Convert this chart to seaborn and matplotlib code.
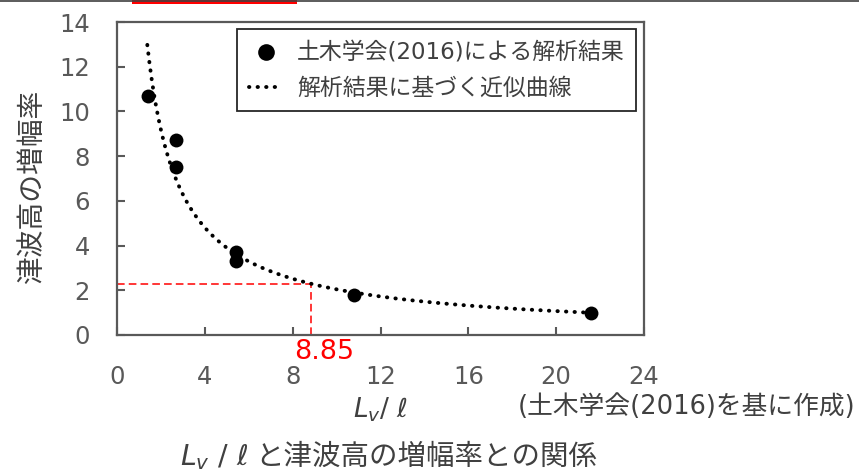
import numpy as np
import pandas as pd
import matplotlib
matplotlib.use("Agg")
import matplotlib.pyplot as plt
import seaborn as sns
from matplotlib.offsetbox import TextArea, HPacker, AnchoredOffsetbox
from matplotlib.patches import Rectangle
from matplotlib.lines import Line2D

# ---- data ----
lv_ratio = [1.4, 2.7, 2.7, 5.4, 5.4, 10.8, 21.6]
amplification = [10.7, 8.7, 7.5, 3.7, 3.3, 1.8, 1.0]
curve_range = [1.38, 21.5]
marked_x = 8.85
x_ticks = [0, 4, 8, 12, 16, 20, 24]
y_ticks = [0, 2, 4, 6, 8, 10, 12, 14]
scatter_label = "土木学会(2016)による解析結果"
curve_label = "解析結果に基づく近似曲線"
y_label = "津波高の増幅率"
source_text = "(土木学会(2016)を基に作成)"
caption_math = r"$L_v$ / $\ell$"
caption_text = "と津波高の増幅率との関係"
x_label = r"$L_v$/ $\ell$"

sns.set_theme(style="white")
plt.rcParams["font.family"] = ["DejaVu Sans", "Noto Sans CJK JP"]
plt.rcParams["mathtext.fontset"] = "dejavusans"

W, H = 859, 475
fig = plt.figure(figsize=(W / 100, H / 100), dpi=100)
ax = fig.add_axes([117 / W, 1 - 335 / H, 527 / W, 313 / H])

# power-law fit of the analysis results (approximation curve)
b, ln_a = np.polyfit(np.log(lv_ratio), np.log(amplification), 1)
xs = np.linspace(curve_range[0], curve_range[1], 400)
curve = pd.DataFrame({"x": xs, "y": np.exp(ln_a) * xs ** b})
y_mark = float(np.exp(ln_a) * marked_x ** b)

sns.lineplot(data=curve, x="x", y="y", ax=ax, color="black", lw=2.8,
             linestyle=(0, (0.1, 2.1)), dash_capstyle="round",
             label=curve_label, zorder=2)
sns.scatterplot(x=lv_ratio, y=amplification, ax=ax, s=100, color="black",
                edgecolor="black", linewidth=0, label=scatter_label, zorder=3)

# red guide lines
ax.plot([0, marked_x], [y_mark, y_mark], color="#FF0000", lw=1.1,
        linestyle=(0, (5, 2.7)), zorder=1)
ax.plot([marked_x, marked_x], [0, y_mark], color="#FF0000", lw=1.1,
        linestyle=(0, (5, 2.7)), zorder=1)
ax.annotate(f"{marked_x}", xy=(marked_x, 0), xycoords=("data", "axes fraction"),
            xytext=(9, -12), textcoords="offset points", ha="center", va="center",
            color="#FF0000", fontsize=19.5)

ax.set_xlim(0, 24)
ax.set_ylim(0, 14)
ax.set_xticks(x_ticks)
ax.set_yticks(y_ticks)
ax.set_xlabel("")
ax.set_ylabel("")
spine_c = "#595959"
for s in ax.spines.values():
    s.set_color(spine_c)
    s.set_linewidth(1.6)
ax.tick_params(axis="both", direction="in", length=6, width=1.5, color=spine_c,
               labelcolor=spine_c, labelsize=17.5, bottom=True, left=True,
               top=False, right=False)
ax.tick_params(axis="x", pad=21.5)
ax.tick_params(axis="y", pad=19.5)

# legend
handles, labels = ax.get_legend_handles_labels()
order = [labels.index(scatter_label), labels.index(curve_label)]
leg = ax.legend([handles[i] for i in order], [labels[i] for i in order],
                loc="upper right", bbox_to_anchor=(0.985, 0.978),
                fontsize=16.5, frameon=True, fancybox=False, framealpha=1,
                edgecolor="#262626", handlelength=1.5, handletextpad=0.6,
                borderpad=0.5, labelspacing=0.58, borderaxespad=0,
                markerscale=1.2)
leg.get_frame().set_linewidth(1.3)
for t in leg.get_texts():
    t.set_color("#404040")

# labels
txt_c = "#404040"
fig.text(32 / W, 1 - 187 / H, y_label, rotation=90, ha="center", va="center",
         fontsize=20, color=txt_c)
fig.text(380 / W, 1 - 410 / H, x_label, ha="center", va="center",
         fontsize=19, color=txt_c)
fig.text(855 / W, 1 - 407 / H, source_text, ha="right", va="center",
         fontsize=18.5, color=txt_c)

t1 = TextArea(caption_math, textprops=dict(fontsize=20.5, color=txt_c))
t2 = TextArea(caption_text, textprops=dict(fontsize=20.5, color=txt_c))
box = HPacker(children=[t1, t2], align="baseline", pad=0, sep=5)
anch = AnchoredOffsetbox(loc="center", child=box, pad=0, frameon=False,
                         bbox_to_anchor=(389 / W, 1 - 457 / H),
                         bbox_transform=fig.transFigure, borderpad=0)
fig.add_artist(anch)

# top border decoration
fig.add_artist(Line2D([0, 1], [1 - 0.8 / H, 1 - 0.8 / H], transform=fig.transFigure,
                      color="#404040", lw=1.2))
fig.add_artist(Rectangle((132 / W, 1 - 3.5 / H), 165 / W, 3.5 / H,
                         transform=fig.transFigure, color="#FF0000", lw=0))

fig.savefig("out.png", dpi=100)
